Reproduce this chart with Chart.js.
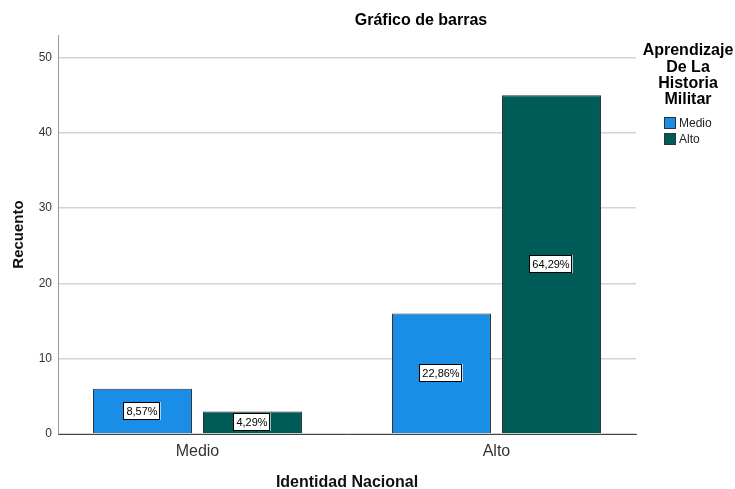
<!DOCTYPE html>
<html>
<head>
<meta charset="utf-8">
<script src="https://cdn.jsdelivr.net/npm/chart.js@4/dist/chart.umd.min.js"></script>
<style>
  html, body { margin: 0; padding: 0; background: #fff; }
  #wrap { width: 735px; height: 489px; }
</style>
</head>
<body>
<div id="wrap"><canvas id="grafico"></canvas></div>
<script>
const categorias = ['Medio', 'Alto'];
const series = ['Medio', 'Alto'];
const recuentoMedio = [6, 16];
const recuentoAlto = [3, 45];
const ticksY = [0, 10, 20, 30, 40, 50];
const tituloLeyenda = ['Aprendizaje', 'De La', 'Historia', 'Militar'];

const colores = ['#1a8de6', '#005c58'];
const fuente = 'Arial, "Liberation Sans", sans-serif';
Chart.defaults.font.family = fuente;

const total = recuentoMedio.concat(recuentoAlto).reduce((a, b) => a + b, 0);
const pct = v => (v / total * 100).toFixed(2).replace('.', ',') + '%';

/* Título y leyenda a la derecha */
const tituloYLeyenda = {
  id: 'tituloYLeyenda',
  afterDraw(chart) {
    const c = chart.ctx;
    c.save();
    c.fillStyle = '#000';
    c.textAlign = 'center';
    c.textBaseline = 'middle';
    c.font = 'bold 16px ' + fuente;
    c.fillText('Gráfico de barras', 421, 21);

    tituloLeyenda.forEach((t, i) => c.fillText(t, 688, 51 + i * 16.3));

    c.textAlign = 'left';
    c.font = '12px ' + fuente;
    chart.data.datasets.forEach((ds, i) => {
      const y = 123 + i * 16;
      c.fillStyle = ds.backgroundColor;
      c.fillRect(664, y - 6, 12, 12);
      c.strokeStyle = '#333';
      c.lineWidth = 1;
      c.strokeRect(664.5, y - 5.5, 11, 11);
      c.fillStyle = '#222';
      c.fillText(ds.label, 679, y + 1);
    });
    c.restore();
  }
};

/* Etiquetas de porcentaje */
const etiquetas = {
  id: 'etiquetas',
  afterDatasetsDraw(chart) {
    const c = chart.ctx;
    c.save();
    c.font = '11px ' + fuente;
    c.textAlign = 'center';
    c.textBaseline = 'middle';
    chart.data.datasets.forEach((ds, i) => {
      chart.getDatasetMeta(i).data.forEach((bar, j) => {
        const txt = pct(ds.data[j]);
        const w = c.measureText(txt).width + 6;
        const h = 18;
        const x = Math.round(bar.x);
        const y = Math.round((bar.y + bar.base) / 2);
        c.fillStyle = '#fff';
        c.fillRect(x - w / 2, y - h / 2, w, h);
        c.strokeStyle = '#000';
        c.lineWidth = 1;
        c.strokeRect(Math.round(x - w / 2) + 0.5, y - h / 2 + 0.5, Math.round(w) - 1, h - 1);
        c.fillStyle = '#000';
        c.fillText(txt, x, y + 1);
      });
    });
    c.restore();
  }
};

new Chart(document.getElementById('grafico'), {
  type: 'bar',
  data: {
    labels: categorias,
    datasets: [
      { label: series[0], data: recuentoMedio, backgroundColor: colores[0] },
      { label: series[1], data: recuentoAlto, backgroundColor: colores[1] }
    ]
  },
  options: {
    responsive: true,
    maintainAspectRatio: false,
    animation: false,
    layout: { padding: { top: 35, right: 99, left: 0, bottom: 0 } },
    datasets: {
      bar: {
        borderColor: '#333',
        borderWidth: 1,
        categoryPercentage: 0.7358,
        barPercentage: 0.9
      }
    },
    plugins: {
      legend: { display: false },
      title: { display: false },
      tooltip: { enabled: false }
    },
    scales: {
      x: {
        grid: { display: false },
        border: { color: '#444', width: 1 },
        ticks: { color: '#333', font: { size: 16, lineHeight: 1 }, padding: 2 },
        title: {
          display: true,
          text: 'Identidad Nacional',
          color: '#111',
          font: { size: 16, weight: 'bold', lineHeight: 1 },
          padding: { top: 0, bottom: -2 }
        },
        afterFit(scale) { scale.height = 55; },
        // el SPSS separa las categorias algo mas que el ancho/2
        afterBuildTicks(scale) {
          scale._valueRange = 578 / 299;
          scale._startValue = -0.4665;
        }
      },
      y: {
        min: 0,
        max: 53,
        grid: { color: '#d4d4d4', lineWidth: 1.5, drawTicks: false },
        border: { color: '#999', width: 1 },
        ticks: { stepSize: 10, color: '#333', font: { size: 12 }, padding: 6 },
        afterBuildTicks(scale) {
          scale.ticks = ticksY.map(v => ({ value: v }));
        },
        title: {
          display: true,
          text: 'Recuento',
          color: '#111',
          font: { size: 15, weight: 'bold', lineHeight: 1.2 },
          padding: { top: 10, bottom: 0 }
        },
        afterFit(scale) { scale.width = 58; }
      }
    }
  },
  plugins: [tituloYLeyenda, etiquetas]
});
</script>
</body>
</html>
